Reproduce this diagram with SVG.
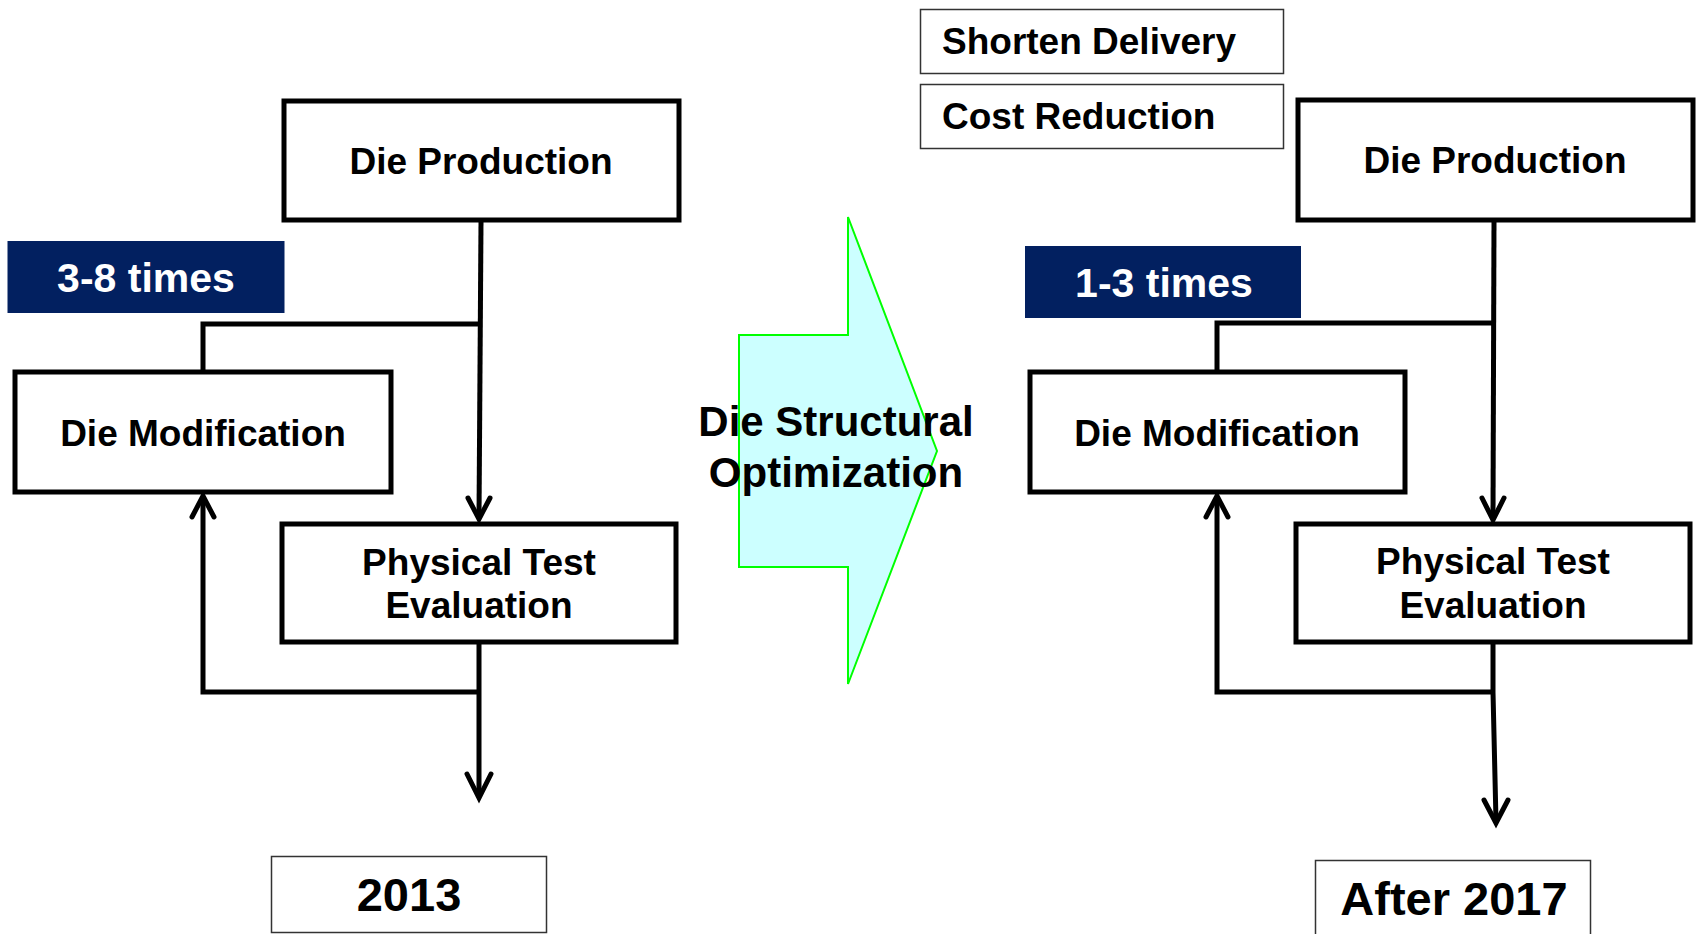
<svg xmlns="http://www.w3.org/2000/svg" width="1698" height="934" viewBox="0 0 1698 934">
<style>
.box{fill:#fff;stroke:#000;stroke-width:5}
.thin{fill:#fff;stroke:#333;stroke-width:1.5}
.navy{fill:#022060}
.t{font-family:"Liberation Sans",Arial,sans-serif;font-weight:bold;fill:#000}
.c{text-anchor:middle}
.n{font-size:37px}
.w{fill:#fff;font-size:41px}
.big{font-size:47px}
.ln{fill:none;stroke:#000;stroke-width:5;stroke-linejoin:miter}
.ah{fill:none;stroke:#000;stroke-width:5;stroke-linejoin:miter;stroke-linecap:round}
</style>
<g id="connectors">
<path class="ln" d="M481,222 L479,518"/>
<polyline class="ah" points="468,498 479,519 490,498"/>
<path class="ln" d="M481,324 H203 V372"/>
<path class="ln" d="M479,644 V797"/>
<polyline class="ah" points="467,774 479,798 491,774"/>
<path class="ln" d="M479,692 H203 V497"/>
<polyline class="ah" points="192,517 203,496 214,517"/>
<path class="ln" d="M1494,222 L1493,518"/>
<polyline class="ah" points="1482,498 1493,520 1504,498"/>
<path class="ln" d="M1494,323 H1217 V372"/>
<path class="ln" d="M1493,644 V692 L1496,821"/>
<polyline class="ah" points="1484,800 1496,823 1508,800"/>
<path class="ln" d="M1493,692 H1217 V497"/>
<polyline class="ah" points="1206,517 1217,496 1228,517"/>
</g>
<g id="die-production-left"><rect class="box" x="284" y="101" width="395" height="119"/><text class="t c n" x="481" y="174">Die Production</text></g>
<g id="times-left"><rect class="navy" x="7.5" y="241" width="277" height="72"/><text class="t c w" x="146" y="292">3-8 times</text></g>
<g id="die-modification-left"><rect class="box" x="15" y="372" width="376" height="120"/><text class="t c n" x="203" y="446">Die Modification</text></g>
<g id="physical-test-left"><rect class="box" x="282" y="524" width="394" height="118"/><text class="t c n" x="479" y="575">Physical Test</text><text class="t c n" x="479" y="618">Evaluation</text></g>
<g id="year-2013"><rect class="thin" x="271.5" y="856.5" width="275" height="76"/><text class="t c big" x="409" y="911">2013</text></g>
<g id="optimization-arrow"><polygon points="848,217 937,451 848,684 848,567 739,567 739,335 848,335" fill="#CCFFFF" stroke="#00FF00" stroke-width="2"/><text class="t c" font-size="42" x="836" y="436">Die Structural</text><text class="t c" font-size="42" x="836" y="487">Optimization</text></g>
<g id="shorten-delivery"><rect class="thin" x="920.5" y="9.5" width="363" height="64"/><text class="t n" x="942" y="54">Shorten Delivery</text></g>
<g id="cost-reduction"><rect class="thin" x="920.5" y="84.5" width="363" height="64"/><text class="t n" x="942" y="129">Cost Reduction</text></g>
<g id="die-production-right"><rect class="box" x="1298" y="100" width="395" height="120"/><text class="t c n" x="1495" y="173">Die Production</text></g>
<g id="times-right"><rect class="navy" x="1025" y="246" width="276" height="72"/><text class="t c w" x="1164" y="297">1-3 times</text></g>
<g id="die-modification-right"><rect class="box" x="1030" y="372" width="375" height="120"/><text class="t c n" x="1217" y="446">Die Modification</text></g>
<g id="physical-test-right"><rect class="box" x="1296" y="524" width="394" height="118"/><text class="t c n" x="1493" y="574">Physical Test</text><text class="t c n" x="1493" y="618">Evaluation</text></g>
<g id="after-2017"><rect class="thin" x="1315.5" y="860.5" width="275" height="82"/><text class="t c big" x="1454" y="915">After 2017</text></g>
</svg>
